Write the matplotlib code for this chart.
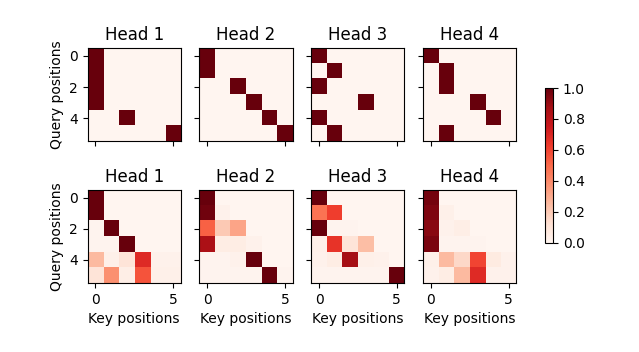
import matplotlib
matplotlib.use("Agg")
import matplotlib.pyplot as plt
import numpy as np

titles = ["Head 1", "Head 2", "Head 3", "Head 4"]

# верхний ряд: жёсткое внимание (одна позиция на строку)
top_h1 = [[1, 0, 0, 0, 0, 0],
          [1, 0, 0, 0, 0, 0],
          [1, 0, 0, 0, 0, 0],
          [1, 0, 0, 0, 0, 0],
          [0, 0, 1, 0, 0, 0],
          [0, 0, 0, 0, 0, 1]]
top_h2 = [[1, 0, 0, 0, 0, 0],
          [1, 0, 0, 0, 0, 0],
          [0, 0, 1, 0, 0, 0],
          [0, 0, 0, 1, 0, 0],
          [0, 0, 0, 0, 1, 0],
          [0, 0, 0, 0, 0, 1]]
top_h3 = [[1, 0, 0, 0, 0, 0],
          [0, 1, 0, 0, 0, 0],
          [1, 0, 0, 0, 0, 0],
          [0, 0, 0, 1, 0, 0],
          [1, 0, 0, 0, 0, 0],
          [0, 1, 0, 0, 0, 0]]
top_h4 = [[1, 0, 0, 0, 0, 0],
          [0, 1, 0, 0, 0, 0],
          [0, 1, 0, 0, 0, 0],
          [0, 0, 0, 1, 0, 0],
          [0, 0, 0, 0, 1, 0],
          [0, 1, 0, 0, 0, 0]]

# нижний ряд: мягкое внимание
bot_h1 = [[1.00, 0.00, 0.00, 0.00, 0.00, 0.00],
          [1.00, 0.00, 0.00, 0.00, 0.00, 0.00],
          [0.01, 1.00, 0.00, 0.00, 0.00, 0.00],
          [0.01, 0.01, 1.00, 0.00, 0.00, 0.00],
          [0.25, 0.03, 0.10, 0.68, 0.02, 0.02],
          [0.10, 0.38, 0.04, 0.56, 0.03, 0.03]]
bot_h2 = [[1.00, 0.00, 0.00, 0.00, 0.00, 0.00],
          [0.98, 0.02, 0.00, 0.00, 0.00, 0.00],
          [0.52, 0.20, 0.32, 0.00, 0.00, 0.00],
          [0.85, 0.05, 0.05, 0.02, 0.00, 0.00],
          [0.01, 0.01, 0.02, 1.00, 0.00, 0.00],
          [0.01, 0.01, 0.01, 0.01, 1.00, 0.01]]
bot_h3 = [[1.00, 0.00, 0.00, 0.00, 0.00, 0.00],
          [0.47, 0.62, 0.00, 0.00, 0.00, 0.00],
          [1.00, 0.01, 0.01, 0.00, 0.00, 0.00],
          [0.03, 0.65, 0.10, 0.24, 0.00, 0.00],
          [0.02, 0.05, 0.87, 0.03, 0.02, 0.00],
          [0.01, 0.01, 0.01, 0.01, 0.01, 1.00]]
bot_h4 = [[0.97, 0.00, 0.00, 0.00, 0.00, 0.00],
          [0.95, 0.03, 0.00, 0.00, 0.00, 0.00],
          [0.93, 0.02, 0.04, 0.00, 0.00, 0.00],
          [0.96, 0.01, 0.01, 0.01, 0.00, 0.00],
          [0.03, 0.25, 0.15, 0.60, 0.06, 0.02],
          [0.02, 0.05, 0.25, 0.68, 0.02, 0.02]]

matrices = [[top_h1, top_h2, top_h3, top_h4],
            [bot_h1, bot_h2, bot_h3, bot_h4]]

fig, axes = plt.subplots(2, 4, figsize=(6.39, 3.52), dpi=100,
                         sharex=True, sharey=True, squeeze=False)
fig.subplots_adjust(left=0.137, right=0.808, bottom=0.196, top=0.863,
                    wspace=0.2, hspace=0.52)
for i, (row_axes, row_mats) in enumerate(zip(axes, matrices)):
    for j, (ax, m) in enumerate(zip(row_axes, row_mats)):
        pcm = ax.imshow(np.array(m), cmap="Reds", vmin=0, vmax=1)
        if i == 1:
            ax.set_xlabel("Key positions")
        if j == 0:
            ax.set_ylabel("Query positions")
        ax.set_title(titles[j])
cax = fig.add_axes([0.853, 0.31, 0.0125, 0.44])
fig.colorbar(pcm, cax=cax)
fig.savefig("out.png")
